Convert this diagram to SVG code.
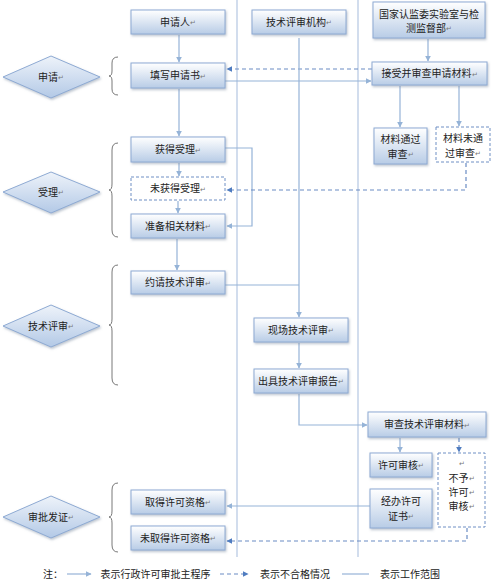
<svg xmlns="http://www.w3.org/2000/svg" width="500" height="582" viewBox="0 0 500 582">
<style>
text{font-family:"Liberation Sans","Noto Sans CJK SC",sans-serif;font-size:10px;fill:#222;text-anchor:middle;dominant-baseline:central}
.pm{font-size:7px;fill:#777}
.box{fill:url(#bg);stroke:#8eaad3;stroke-width:1;filter:url(#sh)}
.dbox{fill:#fff;stroke:#6f8fc4;stroke-width:1;stroke-dasharray:3,2}
.dia{fill:url(#dg);stroke:#8eaad3;stroke-width:1;filter:url(#sh)}
.lane{stroke:#b4c7e2;stroke-width:1.2;fill:none}
.c{stroke:#95b3d7;stroke-width:1.2;fill:none}
.ca{stroke:#95b3d7;stroke-width:1.2;fill:none;marker-end:url(#a)}
.d{stroke:#6a8cc4;stroke-width:1.2;fill:none;stroke-dasharray:4,3}
.da{stroke:#6a8cc4;stroke-width:1.2;fill:none;stroke-dasharray:4,3;marker-end:url(#ad)}
.br{stroke:#555;stroke-width:0.8;fill:none}
</style>
<defs>
<linearGradient id="bg" x1="0" y1="0" x2="0" y2="1"><stop offset="0" stop-color="#ffffff"/><stop offset="1" stop-color="#b8cce6"/></linearGradient>
<linearGradient id="dg" x1="0" y1="0" x2="0" y2="1"><stop offset="0" stop-color="#eef3fa"/><stop offset="1" stop-color="#b3c9e6"/></linearGradient>
<filter id="sh" x="-10%" y="-10%" width="130%" height="140%"><feDropShadow dx="1" dy="1.5" stdDeviation="0.8" flood-color="#7a8aa0" flood-opacity="0.5"/></filter>
<marker id="a" viewBox="0 0 10 10" refX="9" refY="5" markerWidth="6" markerHeight="6" orient="auto" markerUnits="userSpaceOnUse"><path d="M0,0 L10,5 L0,10 z" fill="#95b3d7"/></marker>
<marker id="ad" viewBox="0 0 10 10" refX="9" refY="5" markerWidth="6" markerHeight="6" orient="auto" markerUnits="userSpaceOnUse"><path d="M0,0 L10,5 L0,10 z" fill="#4f7cc0"/></marker>
</defs>
<rect width="500" height="582" fill="#fff"/>
<g id="lanes">
<line class="lane" x1="237" y1="0" x2="237" y2="557"/>
<line class="lane" x1="358" y1="0" x2="358" y2="557"/>
</g>
<g id="braces">
<path class="br" d="M118,57 Q112,57 112,63 L112,71 Q112,76 109,76 Q112,76 112,81 L112,89 Q112,95 118,95"/>
<path class="br" d="M118,143 Q112,143 112,150 L112,184 Q112,190 109,190 Q112,190 112,196 L112,230 Q112,237 118,237"/>
<path class="br" d="M118,265 Q112,265 112,272 L112,319 Q112,325 109,325 Q112,325 112,331 L112,378 Q112,385 118,385"/>
<path class="br" d="M118,483 Q112,483 112,490 L112,511 Q112,517 109,517 Q112,517 112,523 L112,545 Q112,552 118,552"/>
</g>
<g id="connectors">
<line class="ca" x1="179" y1="35" x2="179" y2="62"/>
<line class="ca" x1="179" y1="89" x2="179" y2="136"/>
<line class="ca" x1="179" y1="163" x2="179" y2="176"/>
<line class="ca" x1="178" y1="201" x2="178" y2="213"/>
<line class="ca" x1="177" y1="239" x2="177" y2="270"/>
<polyline class="ca" points="225,148 252,148 252,226 227,226"/>
<line class="ca" x1="225" y1="81" x2="371" y2="81"/>
<line class="da" x1="372" y1="69" x2="227" y2="69"/>
<line class="ca" x1="428" y1="39" x2="428" y2="61"/>
<line class="ca" x1="400" y1="86" x2="400" y2="127"/>
<line class="ca" x1="459" y1="86" x2="459" y2="126"/>
<polyline class="da" points="466,163 466,190 227,190"/>
<line class="ca" x1="299" y1="38" x2="299" y2="317"/>
<line class="c" x1="225" y1="285" x2="299" y2="285"/>
<line class="ca" x1="299" y1="343" x2="299" y2="368"/>
<polyline class="ca" points="299,394 299,425 367,425"/>
<line class="ca" x1="400" y1="438" x2="400" y2="452"/>
<line class="da" x1="459" y1="438" x2="459" y2="452"/>
<line class="ca" x1="370" y1="506" x2="227" y2="506"/>
<polyline class="da" points="467,528 467,541 227,541"/>
</g>
<g id="n-shenqingren"><rect class="box" x="131" y="10" width="94" height="24"/><text x="178" y="22">申请人<tspan class="pm">↵</tspan></text></g>
<g id="n-tianxie"><rect class="box" x="131" y="63" width="94" height="25"/><text x="178" y="75.5">填写申请书<tspan class="pm">↵</tspan></text></g>
<g id="n-huodeshouli"><rect class="box" x="131" y="137" width="94" height="25"/><text x="178" y="149.5">获得受理<tspan class="pm">↵</tspan></text></g>
<g id="n-weihuode"><rect class="dbox" x="131" y="177" width="94" height="23"/><text x="178" y="188.5">未获得受理<tspan class="pm">↵</tspan></text></g>
<g id="n-zhunbei"><rect class="box" x="131" y="214" width="94" height="24"/><text x="178" y="226">准备相关材料<tspan class="pm">↵</tspan></text></g>
<g id="n-yueqing"><rect class="box" x="131" y="271" width="94" height="23"/><text x="178" y="282.5">约请技术评审<tspan class="pm">↵</tspan></text></g>
<g id="n-qude"><rect class="box" x="131" y="490" width="94" height="24"/><text x="178" y="502">取得许可资格<tspan class="pm">↵</tspan></text></g>
<g id="n-weiqude"><rect class="box" x="131" y="526" width="94" height="24"/><text x="178" y="538">未取得许可资格<tspan class="pm">↵</tspan></text></g>
<g id="n-jigou"><rect class="box" x="252" y="10" width="94" height="24"/><text x="299" y="22">技术评审机构<tspan class="pm">↵</tspan></text></g>
<g id="n-guojia"><rect class="box" x="373" y="2" width="112" height="36"/><text x="429" y="14">国家认监委实验室与检</text><text x="429" y="28">测监督部<tspan class="pm">↵</tspan></text></g>
<g id="n-jieshou"><rect class="box" x="372" y="62" width="115" height="23"/><text x="429.5" y="73.5">接受并审查申请材料<tspan class="pm">↵</tspan></text></g>
<g id="n-tongguo"><rect class="box" x="374" y="128" width="53" height="36"/><text x="400.5" y="139">材料通过</text><text x="400.5" y="154">审查<tspan class="pm">↵</tspan></text></g>
<g id="n-weitongguo"><rect class="dbox" x="436" y="127" width="54" height="35"/><text x="463" y="138">材料未通</text><text x="463" y="153">过审查<tspan class="pm">↵</tspan></text></g>
<g id="n-xianchang"><rect class="box" x="254" y="318" width="94" height="24"/><text x="301" y="330">现场技术评审<tspan class="pm">↵</tspan></text></g>
<g id="n-chuju"><rect class="box" x="254" y="369" width="94" height="24"/><text x="301" y="381">出具技术评审报告<tspan class="pm">↵</tspan></text></g>
<g id="n-shencha"><rect class="box" x="368" y="412" width="118" height="25"/><text x="427" y="424.5">审查技术评审材料<tspan class="pm">↵</tspan></text></g>
<g id="n-xukeshenhe"><rect class="box" x="370" y="453" width="62" height="24"/><text x="401" y="465">许可审核<tspan class="pm">↵</tspan></text></g>
<g id="n-jingban"><rect class="box" x="370" y="489" width="62" height="39"/><text x="401" y="501">经办许可</text><text x="401" y="516">证书<tspan class="pm">↵</tspan></text></g>
<g id="n-buyu"><rect class="dbox" x="438" y="453" width="47" height="74"/><text x="462" y="463" class="pm">↵</text><text x="461.5" y="478">不予<tspan class="pm">↵</tspan></text><text x="461.5" y="492">许可<tspan class="pm">↵</tspan></text><text x="461.5" y="506">审核<tspan class="pm">↵</tspan></text></g>
<g id="d-shenqing"><polygon class="dia" points="3,77 51,56 100,77 51,98"/><text x="51" y="77">申请<tspan class="pm">↵</tspan></text></g>
<g id="d-shouli"><polygon class="dia" points="3,192 51,172 100,192 51,213"/><text x="51" y="192">受理<tspan class="pm">↵</tspan></text></g>
<g id="d-jishu"><polygon class="dia" points="3,326 51,305 100,326 51,347"/><text x="51" y="326">技术评审<tspan class="pm">↵</tspan></text></g>
<g id="d-shenpi"><polygon class="dia" points="3,517 51,496 100,517 51,538"/><text x="51" y="517">审批发证<tspan class="pm">↵</tspan></text></g>
<g id="legend">
<text x="53" y="574">注：</text>
<line class="ca" x1="67" y1="574" x2="91" y2="574"/>
<text x="155.5" y="574">表示行政许可审批主程序</text>
<line class="da" x1="220" y1="574" x2="248" y2="574"/>
<text x="295" y="574">表示不合格情况</text>
<line class="c" x1="342" y1="574" x2="369" y2="574"/>
<text x="410" y="574">表示工作范围</text>
</g>
</svg>
